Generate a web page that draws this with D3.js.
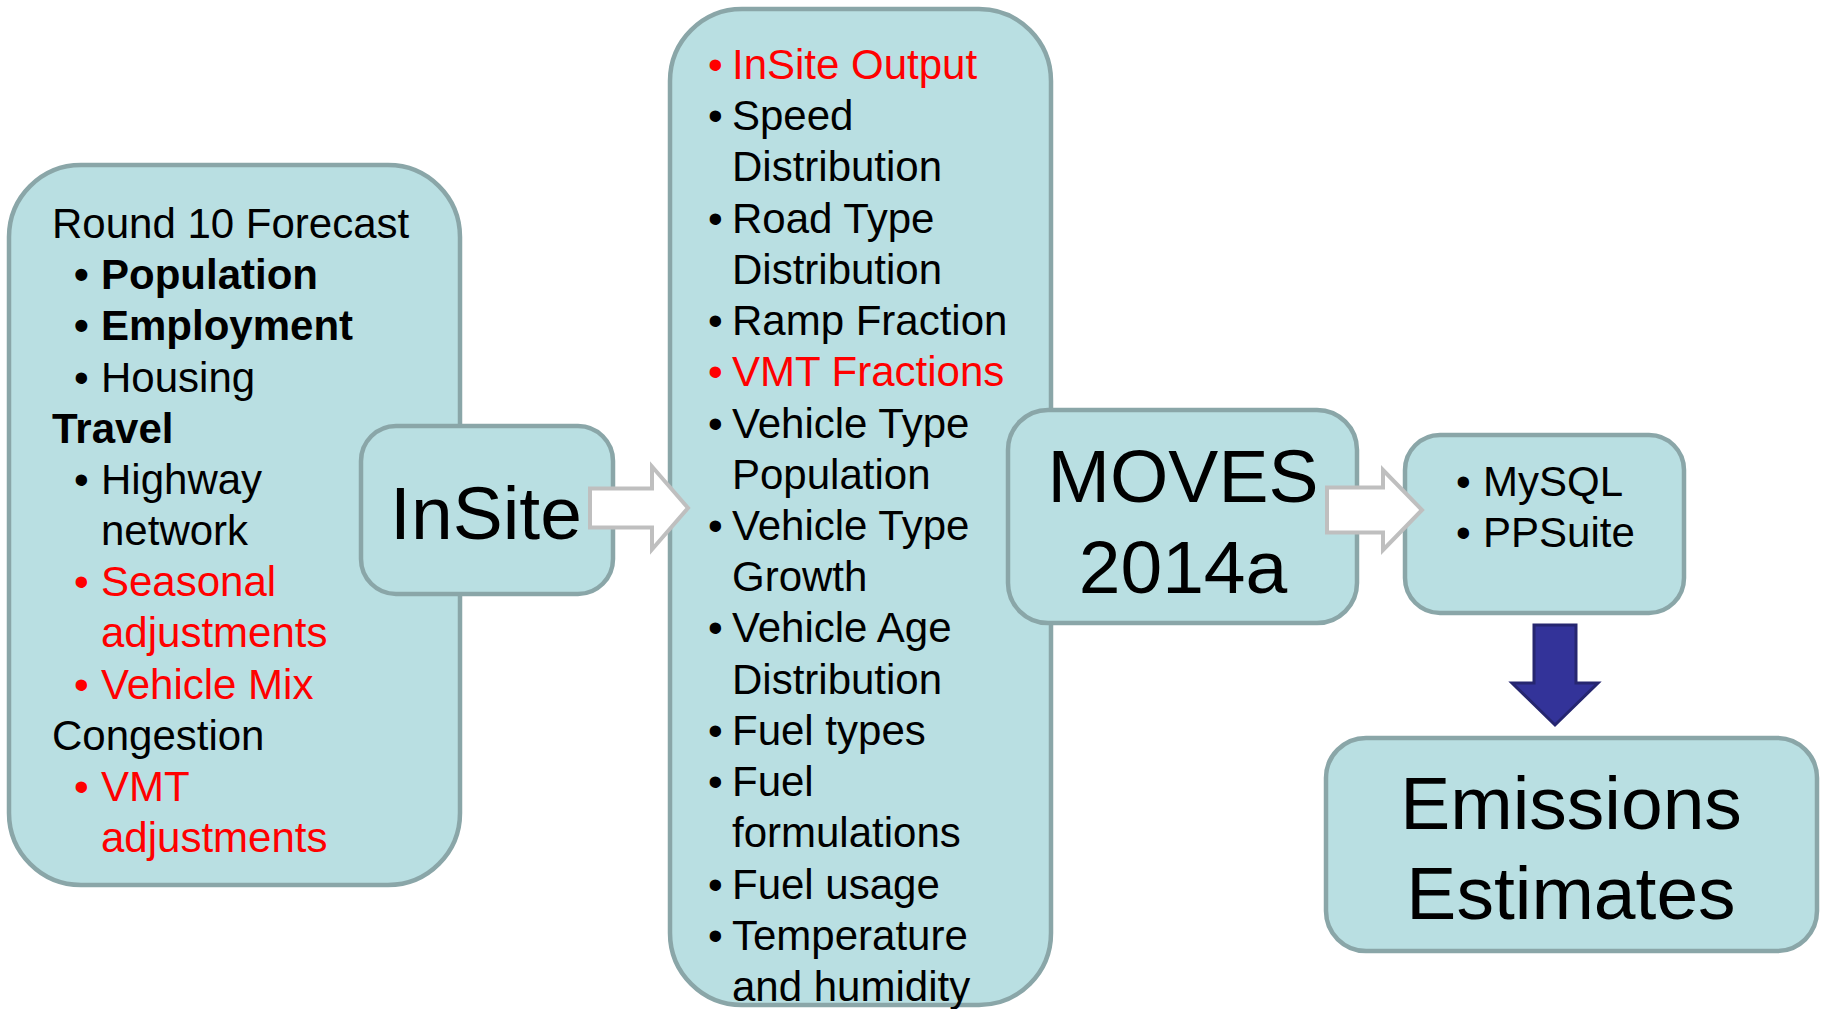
<!DOCTYPE html>
<html>
<head>
<meta charset="utf-8">
<script src="https://cdn.jsdelivr.net/npm/d3@7"></script>
<style>
  body { margin: 0; background: #fff; }
  text { font-family: "Liberation Sans", Arial, sans-serif; }
</style>
</head>
<body>
<div id="my_dataviz"></div>
<script>
// text content of each box
const forecastItems = [
  {lines: ["Round 10 Forecast"], level: 0},
  {lines: ["Population"], level: 1, bold: true},
  {lines: ["Employment"], level: 1, bold: true},
  {lines: ["Housing"], level: 1},
  {lines: ["Travel"], level: 0, bold: true},
  {lines: ["Highway", "network"], level: 1},
  {lines: ["Seasonal", "adjustments"], level: 1, red: true},
  {lines: ["Vehicle Mix"], level: 1, red: true},
  {lines: ["Congestion"], level: 0},
  {lines: ["VMT", "adjustments"], level: 1, red: true}
];

const movesInputs = [
  {lines: ["InSite Output"], red: true},
  {lines: ["Speed", "Distribution"]},
  {lines: ["Road Type", "Distribution"]},
  {lines: ["Ramp Fraction"]},
  {lines: ["VMT Fractions"], red: true},
  {lines: ["Vehicle Type", "Population"]},
  {lines: ["Vehicle Type", "Growth"]},
  {lines: ["Vehicle Age", "Distribution"]},
  {lines: ["Fuel types"]},
  {lines: ["Fuel", "formulations"]},
  {lines: ["Fuel usage"]},
  {lines: ["Temperature", "and humidity"]}
];

const postTools = ["MySQL", "PPSuite"];
const insiteLabel = ["InSite"];
const movesLabel = ["MOVES", "2014a"];
const resultLabel = ["Emissions", "Estimates"];

const width = 1825, height = 1009;
const boxFill = "#b9dfe2", boxStroke = "#8aa6a8";
const red = "#ff0000";

const svg = d3.select("#my_dataviz")
  .append("svg")
    .attr("width", width)
    .attr("height", height);

svg.append("rect").attr("width", width).attr("height", height).attr("fill", "#fff");

function box(x0, y0, x1, y1, r) {
  return svg.append("rect")
    .attr("x", x0).attr("y", y0)
    .attr("width", x1 - x0).attr("height", y1 - y0)
    .attr("rx", r).attr("ry", r)
    .attr("fill", boxFill)
    .attr("stroke", boxStroke)
    .attr("stroke-width", 4.5);
}

// flatten bullet items into text lines
function flatten(items) {
  const out = [];
  items.forEach(it => {
    it.lines.forEach((t, i) => {
      out.push({text: t, bullet: i === 0 && (it.level === undefined || it.level === 1),
        level: it.level === undefined ? 1 : it.level, bold: !!it.bold, red: !!it.red});
    });
  });
  return out;
}

function bulletList(lines, yScale, xBase, xBullet, xText, size) {
  const g = svg.append("g");
  lines.forEach((d, i) => {
    const col = d.red ? red : "#000";
    const wt = d.bold ? "bold" : "normal";
    if (d.bullet) {
      g.append("text").attr("x", xBullet).attr("y", yScale(i))
        .attr("font-size", size).attr("fill", col).attr("font-weight", wt).text("\u2022");
    }
    g.append("text")
      .attr("x", d.level === 0 ? xBase : xText)
      .attr("y", yScale(i))
      .attr("font-size", size)
      .attr("font-weight", wt)
      .attr("fill", col)
      .text(d.text);
  });
}

function centered(labels, cx, yScale, size) {
  svg.append("g").selectAll("text")
    .data(labels)
    .join("text")
      .attr("x", cx)
      .attr("y", (d, i) => yScale(i))
      .attr("text-anchor", "middle")
      .attr("font-size", size)
      .attr("fill", "#000")
      .text(d => d);
}

// block arrow: shaft x0..x1, shaft y half-height, head to tip
function blockArrow(x0, x1, tip, cy, shaftH, headH, fill, stroke) {
  const p = d3.path();
  p.moveTo(x0, cy - shaftH / 2);
  p.lineTo(x1, cy - shaftH / 2);
  p.lineTo(x1, cy - headH / 2);
  p.lineTo(tip, cy);
  p.lineTo(x1, cy + headH / 2);
  p.lineTo(x1, cy + shaftH / 2);
  p.lineTo(x0, cy + shaftH / 2);
  p.closePath();
  svg.append("path").attr("d", p.toString())
    .attr("fill", fill).attr("stroke", stroke).attr("stroke-width", 4);
}

// left: forecast box
box(9, 165, 460, 885, 72);
const leftLines = flatten(forecastItems);
const yLeft = d3.scaleLinear().domain([0, leftLines.length - 1]).range([238, 852]);
bulletList(leftLines, yLeft, 52, 74, 101, 42);

// middle: MOVES inputs box
box(670, 9, 1051, 1005, 72);
const midLines = flatten(movesInputs);
const yMid = d3.scaleLinear().domain([0, midLines.length - 1]).range([79, 1001]);
bulletList(midLines, yMid, 732, 708, 732, 42);

// InSite box
box(361, 426, 613, 594, 35);
centered(insiteLabel, 486, d3.scaleLinear().domain([0, 1]).range([539, 630]), 75);

// MOVES box
box(1008, 410, 1357, 623, 40);
centered(movesLabel, 1183, d3.scaleLinear().domain([0, 1]).range([502, 593]), 75);

// post processing box
box(1405, 435, 1684, 613, 35);
const yPost = d3.scaleLinear().domain([0, 1]).range([496, 547]);
bulletList(postTools.map(t => ({text: t, bullet: true, level: 1})), yPost, 1483, 1456, 1483, 42);

// arrows
blockArrow(590, 652, 688, 508, 39, 83, "#fff", "#bfbfbf");
blockArrow(1327, 1383, 1422, 510, 45, 80, "#fff", "#bfbfbf");

// emissions box
box(1326, 738, 1817, 951, 40);
centered(resultLabel, 1571, d3.scaleLinear().domain([0, 1]).range([829, 919]), 75);

// down arrow
const dp = d3.path();
dp.moveTo(1534, 625); dp.lineTo(1576, 625); dp.lineTo(1576, 683);
dp.lineTo(1598, 683); dp.lineTo(1555, 725); dp.lineTo(1512, 683);
dp.lineTo(1534, 683); dp.closePath();
svg.append("path").attr("d", dp.toString())
  .attr("fill", "#333399").attr("stroke", "#262670").attr("stroke-width", 3);
</script>
</body>
</html>
